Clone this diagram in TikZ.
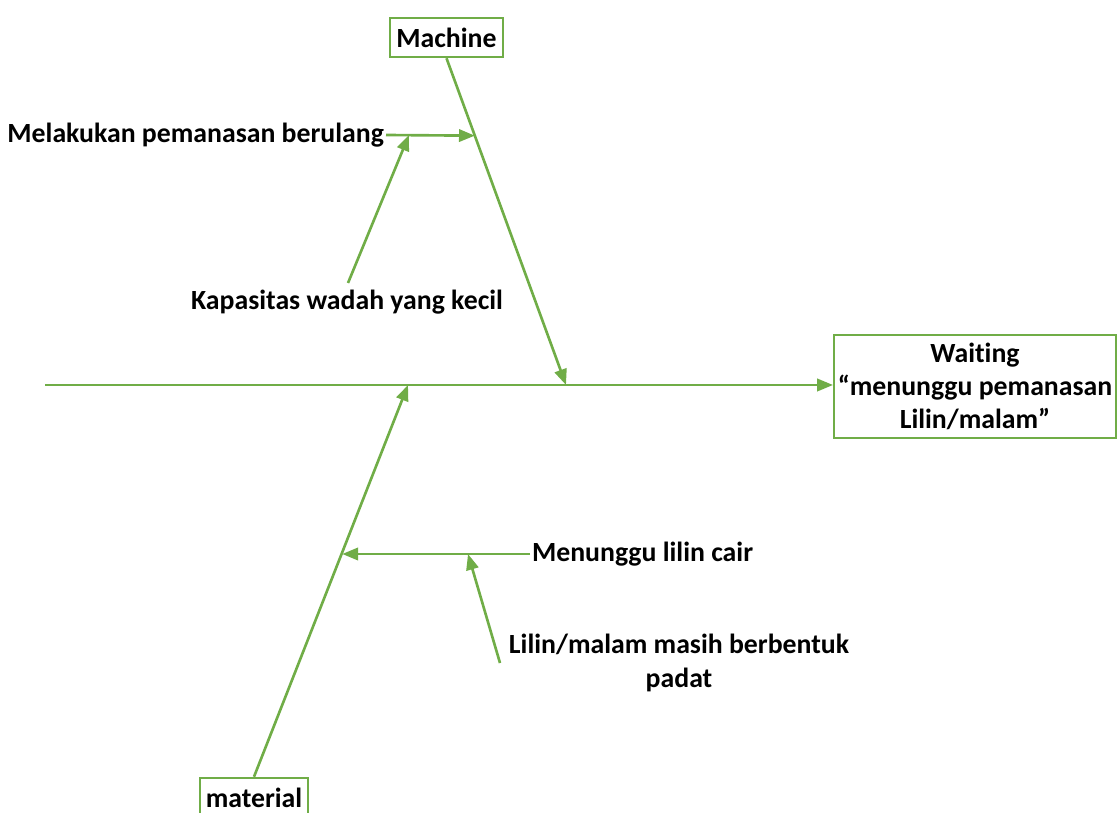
\documentclass[tikz,border=0pt]{standalone}
\usepackage{fontspec}
\setmainfont[Ligatures=NoCommon]{Carlito}
\usetikzlibrary{arrows.meta,positioning,calc}
\definecolor{bone}{RGB}{112,173,71}
\tikzset{
  cat/.style={draw=bone,line width=1.4pt,fill=white,%
    font=\bfseries\fontsize{15.8}{18.8}\selectfont,inner sep=2pt,align=center},
  cause/.style={font=\bfseries\fontsize{15.8}{19.2}\selectfont,inner sep=1pt,align=center},
  flow/.style={-{Triangle[length=9pt,width=7pt]},line width=1.5pt,draw=bone},
}
\begin{document}
\begin{tikzpicture}[x=0.02cm,y=-0.02cm]
\useasboundingbox (0,0) rectangle (1119,813);
% effect and spine
\node[cat,minimum width=5.6cm,minimum height=2.06cm] (eff) at (975,386.5) {Waiting\\“menunggu pemanasan\\Lilin/malam”};
\coordinate (tail) at (45,385);
\draw[flow] (tail) -- (tail -| eff.west);
% machine bone
\node[cat,minimum width=2.26cm,minimum height=0.78cm] (mach) at (446.5,37.5) {Machine};
\coordinate (mjoin) at (566,385);
\draw[flow] (mach.south) -- (mjoin);
\node[cause,anchor=east] (rep) at (386,135) {Melakukan pemanasan berulang};
\coordinate (mhit) at ($(mach.south)!0.237!(mjoin)$);
\draw[flow] (rep.east) -- (mhit);
\node[cause] (kap) at (347,302) {Kapasitas wadah yang kecil};
\coordinate (rhit) at (409,135);
\draw[flow] (348,283) coordinate (kapt) -- (rhit);
% material bone
\node[cat,minimum width=2.16cm,minimum height=0.78cm] (mat) at (254,797.5) {material};
\coordinate (tjoin) at (408,385);
\draw[flow] (mat.north) -- (tjoin);
\node[cause,anchor=west] (wait) at (530,554) {Menunggu lilin cair};
\coordinate (thit) at ($(mat.north)!0.573!(tjoin)$);
\draw[flow] (wait.west) -- (thit |- wait.west);
\node[cause] (pad) at (679,663) {Lilin/malam masih berbentuk\\padat};
\coordinate (whit) at (468,554);
\draw[flow] (500,663) coordinate (padt) -- (whit);
\end{tikzpicture}
\end{document}
